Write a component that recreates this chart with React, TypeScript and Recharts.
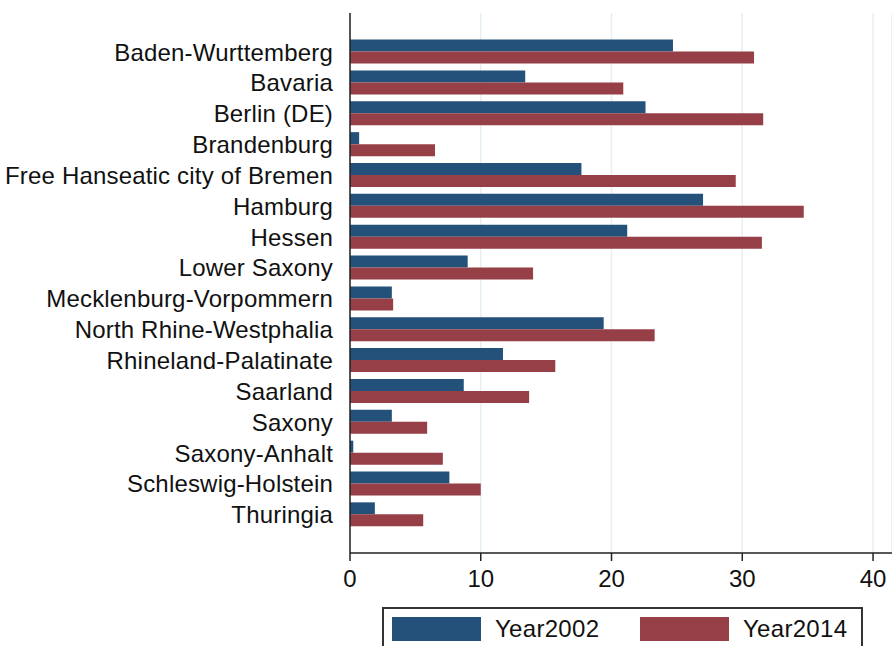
import { BarChart, Bar, XAxis, YAxis, CartesianGrid, Legend } from 'recharts';

const states = [
  'Baden-Wurttemberg',
  'Bavaria',
  'Berlin (DE)',
  'Brandenburg',
  'Free Hanseatic city of Bremen',
  'Hamburg',
  'Hessen',
  'Lower Saxony',
  'Mecklenburg-Vorpommern',
  'North Rhine-Westphalia',
  'Rhineland-Palatinate',
  'Saarland',
  'Saxony',
  'Saxony-Anhalt',
  'Schleswig-Holstein',
  'Thuringia',
];

const year2002 = [24.7, 13.4, 22.6, 0.7, 17.7, 27.0, 21.2, 9.0, 3.2, 19.4, 11.7, 8.7, 3.2, 0.25, 7.6, 1.9];
const year2014 = [30.9, 20.9, 31.6, 6.5, 29.5, 34.7, 31.5, 14.0, 3.3, 23.3, 15.7, 13.7, 5.9, 7.1, 10.0, 5.6];

const xTicks = [0, 10, 20, 30, 40];

const data = states.map((state, i) => ({
  state,
  Year2002: year2002[i],
  Year2014: year2014[i],
}));

const FONT = '"Liberation Sans", Arial, sans-serif';
const BLUE = '#23517a';
const RED = '#973f47';

function LegendBox(props: any) {
  const items = props.payload || [];
  return (
    <div
      style={{
        width: 481,
        height: 50,
        boxSizing: 'border-box',
        border: '2px solid #333',
        background: '#fff',
        display: 'flex',
        alignItems: 'flex-start',
        paddingTop: 8,
        paddingLeft: 8,
        fontFamily: FONT,
        fontSize: 24,
        letterSpacing: 0.3,
        color: '#111',
        overflow: 'hidden',
      }}
    >
      {items.map((it: any) => (
        <div key={it.value} style={{ display: 'flex', alignItems: 'center', width: 248, flexShrink: 0 }}>
          <div style={{ width: 89, height: 24, background: it.color, marginRight: 14, flexShrink: 0 }} />
          <span style={{ lineHeight: '24px', whiteSpace: 'nowrap' }}>{it.value}</span>
        </div>
      ))}
    </div>
  );
}

export default function App() {
  return (
    <div style={{ position: 'absolute', left: 0, top: 0, width: 892, height: 646, overflow: 'hidden', background: '#fff' }}>
      <BarChart
        width={892}
        height={646}
        data={data}
        layout="vertical"
        margin={{ top: 13, right: 0, left: 0, bottom: 53 }}
        barGap={0}
      >
        <CartesianGrid horizontal={false} stroke="#e6eff1" strokeWidth={1.5} />
        <XAxis
          type="number"
          domain={[0, 41.45]}
          ticks={xTicks}
          allowDataOverflow
          height={40}
          tickSize={8}
          tickMargin={9}
          stroke="#222"
          strokeWidth={1.5}
          tick={{ fill: '#111', fontSize: 24, fontFamily: FONT }}
        />
        <YAxis
          type="category"
          dataKey="state"
          width={350}
          interval={0}
          padding={{ top: 23.6, bottom: 22.8 }}
          tickLine={false}
          tickSize={0}
          tickMargin={17}
          stroke="#222"
          strokeWidth={1.5}
          tick={{ fill: '#111', fontSize: 24, fontFamily: FONT, letterSpacing: 0.18 }}
        />
        <Legend
          layout="horizontal"
          verticalAlign="middle"
          align="center"
          content={<LegendBox />}
          wrapperStyle={{ position: 'absolute', left: 382, top: 607, width: 481, height: 50 }}
        />
        <Bar dataKey="Year2002" fill={BLUE} barSize={12} isAnimationActive={false} />
        <Bar dataKey="Year2014" fill={RED} barSize={12} isAnimationActive={false} />
      </BarChart>
    </div>
  );
}
